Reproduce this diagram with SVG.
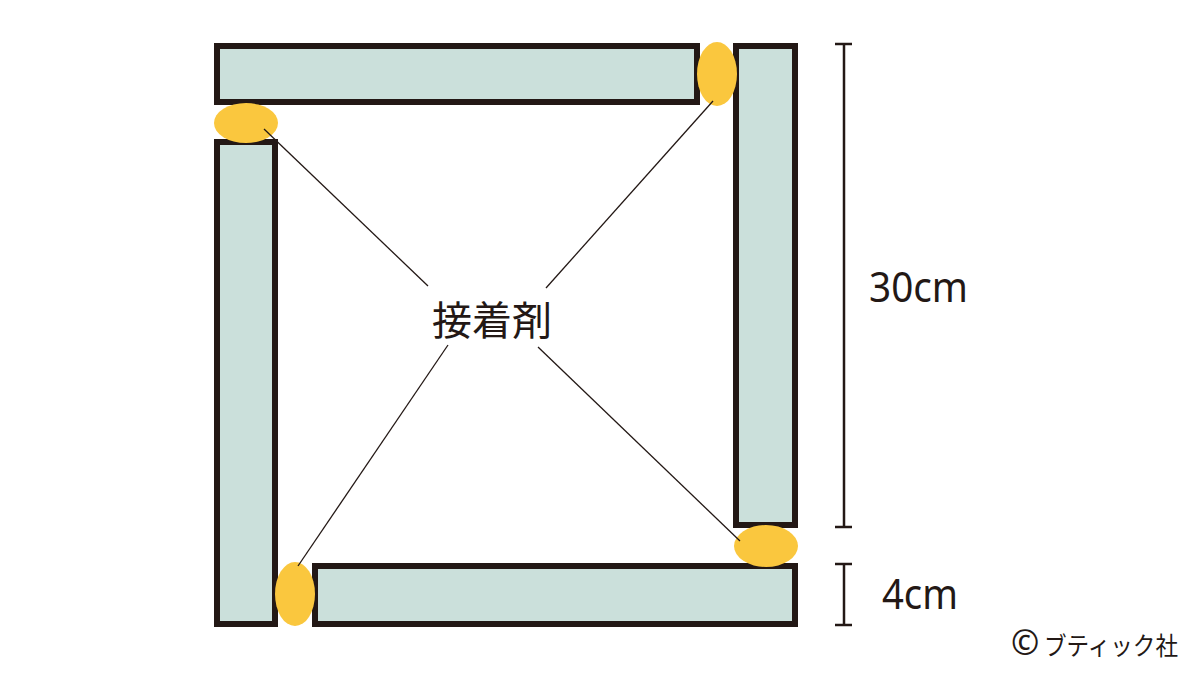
<svg xmlns="http://www.w3.org/2000/svg" width="1200" height="675" viewBox="0 0 1200 675">
<style>
.bar{fill:#cbe0db;stroke:#231815;stroke-width:6}
.glue{fill:#fac73e}
.lead{stroke:#231815;stroke-width:1.3;fill:none}
.dim{stroke:#231815;stroke-width:2.5;fill:none}
.lbl{font-family:"Noto Sans","Noto Sans CJK JP",sans-serif;fill:#231815}
</style>
<rect width="1200" height="675" fill="#ffffff"/>
<g id="bar-top"><rect class="bar" x="217" y="46" width="480" height="56"/></g>
<g id="bar-right"><rect class="bar" x="736" y="46" width="59" height="479"/></g>
<g id="bar-bottom"><rect class="bar" x="315" y="566" width="480" height="58"/></g>
<g id="bar-left"><rect class="bar" x="217" y="142" width="58" height="482"/></g>
<g id="glue-tl"><ellipse class="glue" cx="246" cy="123" rx="32" ry="20"/></g>
<g id="glue-tr"><ellipse class="glue" cx="717" cy="74" rx="20" ry="32"/></g>
<g id="glue-br"><ellipse class="glue" cx="766" cy="546" rx="32" ry="21"/></g>
<g id="glue-bl"><ellipse class="glue" cx="295" cy="594" rx="20" ry="32"/></g>
<g id="connectors">
<line class="lead" x1="264" y1="129" x2="428" y2="286"/>
<line class="lead" x1="713" y1="101" x2="546" y2="288"/>
<line class="lead" x1="298" y1="566" x2="448" y2="345"/>
<line class="lead" x1="740" y1="541" x2="538" y2="347"/>
</g>
<g id="label-glue"><text class="lbl" x="492" y="335" font-size="40" text-anchor="middle">接着剤</text></g>
<g id="dim-30">
<line class="dim" x1="844" y1="44" x2="844" y2="527"/>
<line class="dim" x1="835" y1="44" x2="852" y2="44"/>
<line class="dim" x1="835" y1="527" x2="852" y2="527"/>
<text class="lbl" x="869" y="302" font-size="42" textLength="99" lengthAdjust="spacingAndGlyphs">30cm</text>
</g>
<g id="dim-4">
<line class="dim" x1="844" y1="564" x2="844" y2="625"/>
<line class="dim" x1="835" y1="564" x2="852" y2="564"/>
<line class="dim" x1="835" y1="625" x2="852" y2="625"/>
<text class="lbl" x="882" y="609" font-size="42" textLength="76" lengthAdjust="spacingAndGlyphs">4cm</text>
</g>
<g id="credit"><text class="lbl" y="655"><tspan x="1011" font-size="34">©</tspan><tspan x="1044" font-size="25" textLength="134" lengthAdjust="spacingAndGlyphs">ブティック社</tspan></text></g>
</svg>
